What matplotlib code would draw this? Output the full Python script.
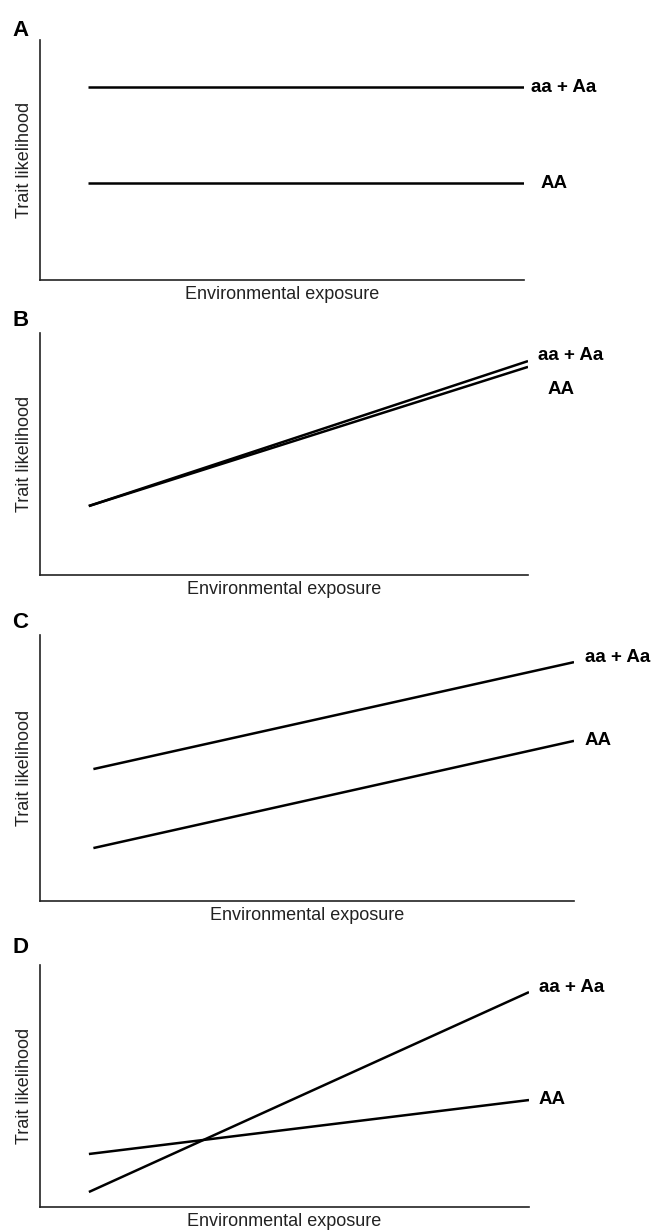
import matplotlib
matplotlib.use("Agg")
import matplotlib.pyplot as plt

plt.rcParams['font.family'] = ['Liberation Sans', 'DejaVu Sans']

panels = ["A", "B", "C", "D"]
x_vals = [0.1, 1.0]
aa_Aa = {"A": [0.804, 0.804], "B": [0.285, 0.884], "C": [0.496, 0.898], "D": [0.062, 0.888]}
AA = {"A": [0.404, 0.404], "B": [0.285, 0.860], "C": [0.199, 0.602], "D": [0.219, 0.442]}
series_labels = ["aa + Aa", "AA"]
xlabel = "Environmental exposure"
ylabel = "Trait likelihood"

W, H = 653, 1231
fig = plt.figure(figsize=(W / 100, H / 100), dpi=100)

# pixel layout: (left, top, right, bottom)
boxes = {"A": (40, 40, 524, 280), "B": (40, 333, 528, 575),
         "C": (40, 635, 574, 901), "D": (40, 965, 529, 1207)}
letter_bottom = {"A": 36, "B": 326, "C": 628, "D": 953}
label_y = {"A": (0.804, 0.404), "B": (0.905, 0.765), "C": (0.915, 0.605), "D": (0.905, 0.445)}
label_dx = {"A": (0.015, 0.035), "B": (0.02, 0.04), "C": (0.02, 0.02), "D": (0.02, 0.02)}

for p in panels:
    l, t, r, b = boxes[p]
    ax = fig.add_axes([l / W, 1 - b / H, (r - l) / W, (b - t) / H])
    ax.set_xlim(0, 1)
    ax.set_ylim(0, 1)
    for s in ["top", "right"]:
        ax.spines[s].set_visible(False)
    for s in ["left", "bottom"]:
        ax.spines[s].set_color("#222222")
        ax.spines[s].set_linewidth(1.2)
    ax.set_xticks([])
    ax.set_yticks([])
    ax.plot(x_vals, aa_Aa[p], color="black", lw=1.8, solid_capstyle="butt")
    ax.plot(x_vals, AA[p], color="black", lw=1.8, solid_capstyle="butt")
    ax.text(1.0 + label_dx[p][0], label_y[p][0], series_labels[0], fontsize=13.5,
            fontweight="bold", va="center", ha="left", clip_on=False)
    ax.text(1.0 + label_dx[p][1], label_y[p][1], series_labels[1], fontsize=13.5,
            fontweight="bold", va="center", ha="left", clip_on=False)
    ax.set_xlabel(xlabel, fontsize=13, color="#222222", labelpad=4)
    ax.set_ylabel(ylabel, fontsize=13, color="#222222", labelpad=5)
    fig.text(12 / W, 1 - letter_bottom[p] / H, p, fontsize=16, fontweight="bold",
             ha="left", va="baseline")

fig.savefig("out.png", dpi=100)
